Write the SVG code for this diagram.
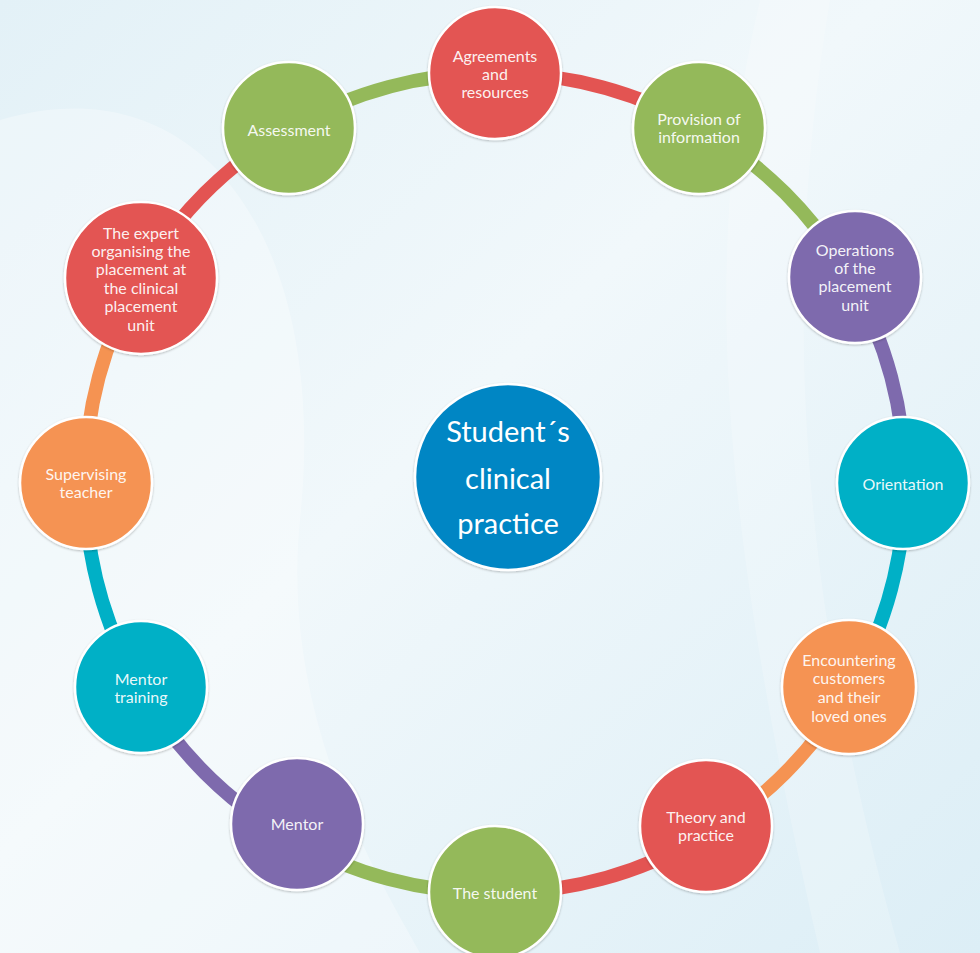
<svg xmlns="http://www.w3.org/2000/svg" width="980" height="953" viewBox="0 0 980 953">
<defs>
<linearGradient id="bg" x1="0" y1="0" x2="1" y2="1">
<stop offset="0" stop-color="#e3f1f7"/>
<stop offset="0.45" stop-color="#f1f8fb"/>
<stop offset="1" stop-color="#dcEEF6"/>
</linearGradient>
<filter id="sh" x="-20%" y="-20%" width="140%" height="140%">
<feDropShadow dx="0" dy="1" stdDeviation="1.2" flood-color="#000" flood-opacity="0.25"/>
</filter>
</defs>
<style>
.n{stroke:#fff;stroke-width:2.5;filter:url(#sh)}
.red{fill:#e35452}.green{fill:#94b95a}.purple{fill:#7e6aad}.teal{fill:#00b0c6}.orange{fill:#f59352}.blue{fill:#0686c4}
.t{font-family:Lato,"Open Sans","Liberation Sans",sans-serif;font-size:16px;fill:#fff;fill-opacity:0.93;text-anchor:middle}
.c{font-family:Lato,"Open Sans","Liberation Sans",sans-serif;font-size:29px;fill:#fff;text-anchor:middle}
.a{fill:none;stroke-width:14}
</style>
<rect width="980" height="953" fill="url(#bg)"/>
<path d="M0 120 C200 60 330 240 300 520 C280 720 380 880 420 953 L0 953 Z" fill="#ffffff" opacity="0.3"/>
<path d="M760 0 C700 250 720 520 820 953 L900 953 C800 600 780 300 830 0 Z" fill="#ffffff" opacity="0.2"/>
<g id="connectors">
<path class="a" stroke="#e35452" d="M495 73 A410 410 0 0 1 700 127.9"/>
<path class="a" stroke="#94b95a" d="M700 127.9 A410 410 0 0 1 850.1 278"/>
<path class="a" stroke="#7e6aad" d="M850.1 278 A410 410 0 0 1 905 483"/>
<path class="a" stroke="#00b0c6" d="M905 483 A410 410 0 0 1 850.1 688"/>
<path class="a" stroke="#f59352" d="M850.1 688 A410 410 0 0 1 700 838.1"/>
<path class="a" stroke="#e35452" d="M700 838.1 A410 410 0 0 1 495 893"/>
<path class="a" stroke="#94b95a" d="M495 893 A410 410 0 0 1 290 838.1"/>
<path class="a" stroke="#7e6aad" d="M290 838.1 A410 410 0 0 1 139.9 688"/>
<path class="a" stroke="#00b0c6" d="M139.9 688 A410 410 0 0 1 85 483"/>
<path class="a" stroke="#f59352" d="M85 483 A410 410 0 0 1 139.9 278"/>
<path class="a" stroke="#e35452" d="M139.9 278 A410 410 0 0 1 290 127.9"/>
<path class="a" stroke="#94b95a" d="M290 127.9 A410 410 0 0 1 495 73"/>
</g>
<g id="center">
<circle class="n blue" cx="508" cy="477" r="93"/>
<text class="c" x="508" y="442">Student´s</text>
<text class="c" x="508" y="489">clinical</text>
<text class="c" x="508" y="534">practice</text>
</g>
<g id="agreements">
<circle class="n red" cx="495" cy="73" r="66"/>
<text class="t" x="495" y="61.5">Agreements</text>
<text class="t" x="495" y="79.5">and</text>
<text class="t" x="495" y="97.5">resources</text>
</g>
<g id="provision">
<circle class="n green" cx="699" cy="128" r="66"/>
<text class="t" x="699" y="125">Provision of</text>
<text class="t" x="699" y="143">information</text>
</g>
<g id="operations">
<circle class="n purple" cx="855" cy="277" r="66"/>
<text class="t" x="855" y="255.5">Operations</text>
<text class="t" x="855" y="273.5">of the</text>
<text class="t" x="855" y="291.5">placement</text>
<text class="t" x="855" y="310.5">unit</text>
</g>
<g id="orientation">
<circle class="n teal" cx="903" cy="483" r="66"/>
<text class="t" x="903" y="489.5">Orientation</text>
</g>
<g id="encountering">
<circle class="n orange" cx="849" cy="687" r="67"/>
<text class="t" x="849" y="665.5">Encountering</text>
<text class="t" x="849" y="683.5">customers</text>
<text class="t" x="849" y="702.5">and their</text>
<text class="t" x="849" y="721.5">loved ones</text>
</g>
<g id="theory">
<circle class="n red" cx="706" cy="826" r="66"/>
<text class="t" x="706" y="822.5">Theory and</text>
<text class="t" x="706" y="840.5">practice</text>
</g>
<g id="student">
<circle class="n green" cx="495" cy="892" r="66"/>
<text class="t" x="495" y="898.5">The student</text>
</g>
<g id="mentor">
<circle class="n purple" cx="297" cy="824" r="66"/>
<text class="t" x="297" y="829.5">Mentor</text>
</g>
<g id="mentor-training">
<circle class="n teal" cx="141" cy="687" r="66"/>
<text class="t" x="141" y="684.5">Mentor</text>
<text class="t" x="141" y="702.5">training</text>
</g>
<g id="supervising">
<circle class="n orange" cx="86" cy="483" r="66"/>
<text class="t" x="86" y="479.5">Supervising</text>
<text class="t" x="86" y="497.5">teacher</text>
</g>
<g id="expert">
<circle class="n red" cx="141" cy="278" r="76"/>
<text class="t" x="141" y="238.5">The expert</text>
<text class="t" x="141" y="256.9">organising the</text>
<text class="t" x="141" y="275.3">placement at</text>
<text class="t" x="141" y="293.7">the clinical</text>
<text class="t" x="141" y="312.1">placement</text>
<text class="t" x="141" y="330.5">unit</text>
</g>
<g id="assessment">
<circle class="n green" cx="289" cy="128" r="66"/>
<text class="t" x="289" y="135.5">Assessment</text>
</g>
</svg>
